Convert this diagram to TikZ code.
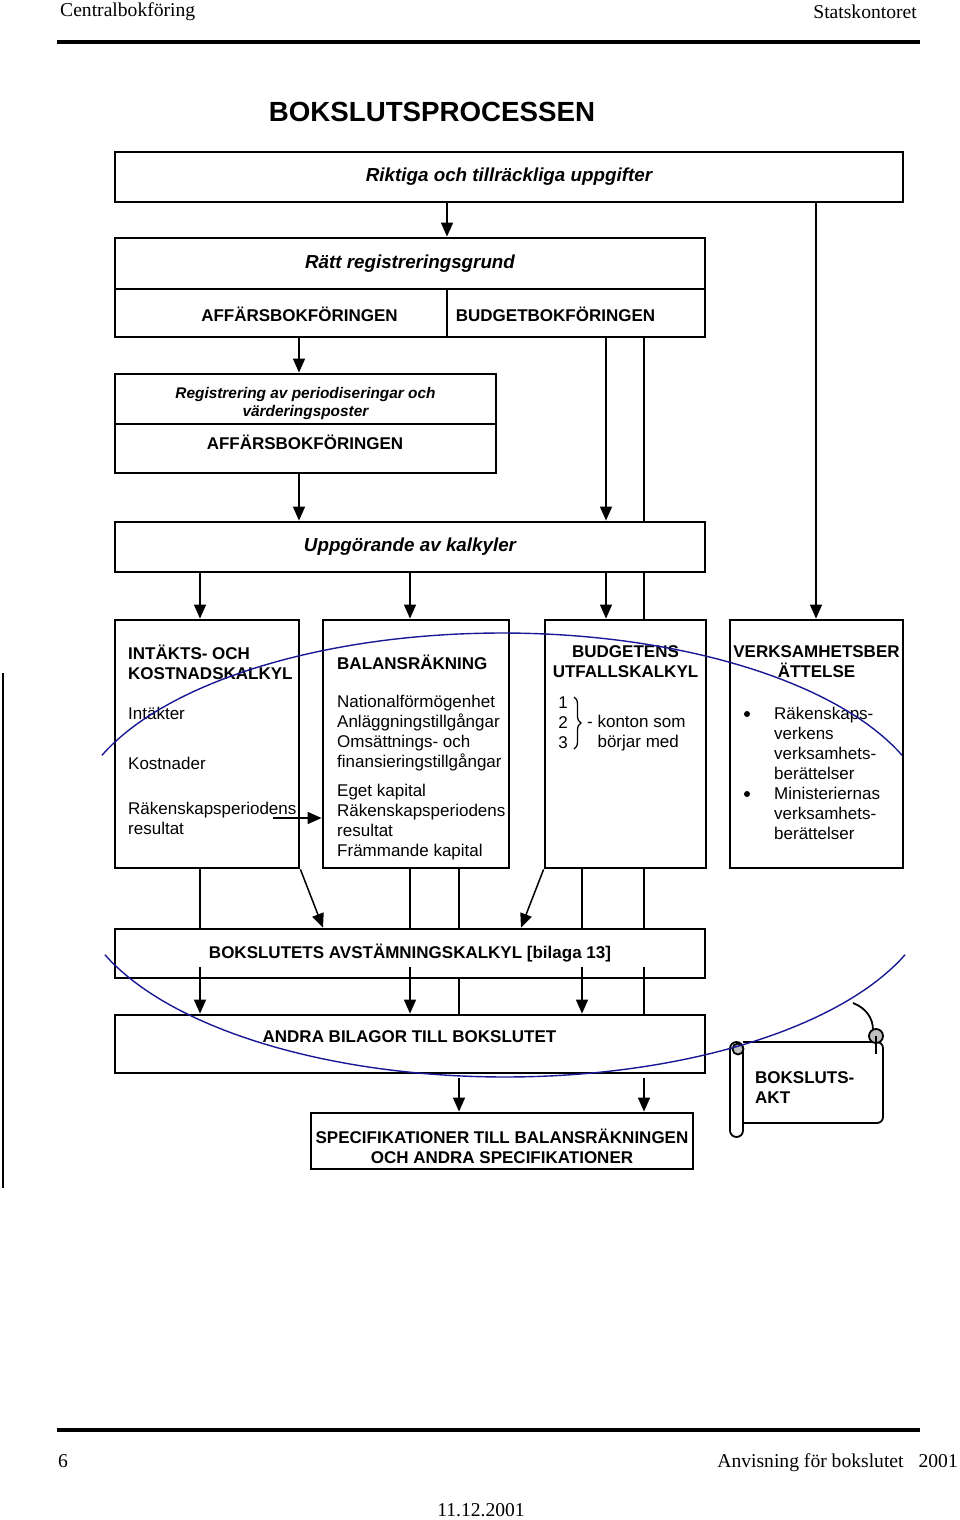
\documentclass[tikz,border=0pt]{standalone}
\usepackage{fontspec}
\setmainfont{Liberation Sans}
\newfontfamily\timesfont{Liberation Serif}
\usepackage{tikz}
\usetikzlibrary{arrows.meta,decorations.pathreplacing}
\usepackage{xcolor}
\definecolor{arcblue}{RGB}{25,25,150}
\newcommand\bodyfont{\fontsize{17}{20}\selectfont}
\newcommand\headfont{\bfseries\fontsize{17}{20}\selectfont}
\newcommand\itfont{\bfseries\itshape\fontsize{18.8}{22}\selectfont}
\newcommand\pagefont{\timesfont\fontsize{19.6}{22}\selectfont}

\begin{document}
\begin{tikzpicture}[
  x=1pt, y=-1pt,
  >={Triangle[length=14pt,width=12pt]},
  %every node/.style={draw=red},
  ]
  \tikzstyle{box}=[draw,line width=2.8pt,inner sep=0]
  \tikzstyle{txt}=[inner sep=0,font=\bodyfont,align=left]
  \tikzstyle{hd}=[inner sep=0,font=\headfont,align=center]
  \tikzstyle{dot}=[circle,fill,inner sep=0,minimum size=6pt]
  \tikzstyle{link}=[line width=1.5pt]
  \tikzstyle{arr}=[link,->]
  \tikzstyle{sc}=[line width=1.8pt]
  \useasboundingbox (0,0) rectangle (960,1520);

  % page head and foot
  \node[anchor=west,inner sep=0,font=\pagefont] (headl) at (60,12) {Centralbokföring};
  \node[anchor=east,inner sep=0,font=\pagefont] (headr) at (917,12) {Statskontoret};
  \draw[line width=4pt] (57,42) -- (920,42);
  \draw[line width=4pt] (57,1430) -- (920,1430);
  \node[anchor=west,inner sep=0,font=\pagefont] (pnum) at (58,1461) {6};
  \node[anchor=east,inner sep=0,font=\pagefont] (doc) at (958,1463) {Anvisning för bokslutet\hspace{15pt}2001};
  \node[inner sep=0,font=\pagefont] (date) at (481,1510) {11.12.2001};
  \draw[line width=1.2pt] (3,673) -- (3,1188);

  \node[inner sep=0,font=\bfseries\fontsize{27.7}{30}\selectfont] (title) at (432,112) {BOKSLUTSPROCESSEN};

  % upper chain
  \node[box,minimum width=788,minimum height=50,font=\itfont] (rikt) at (509,177) {Riktiga och tillräckliga uppgifter};
  \node[box,minimum width=590,minimum height=51,font=\itfont] (ratt) at (410,263.5) {Rätt registreringsgrund};
  \node[box,minimum width=332,minimum height=48] (affar) at (281,313) {};
  \node[box,minimum width=258,minimum height=48] (budg) at (576,313) {};
  \node[hd] (affart) at (299.5,314) {AFFÄRSBOKFÖRINGEN};
  \node[hd] (budgt) at (555.5,314) {BUDGETBOKFÖRINGEN};

  \node[box,minimum width=381,minimum height=50] (reg) at (305.5,399) {};
  \node[inner sep=0,align=center,font=\bfseries\itshape\fontsize{15.4}{18}\selectfont] (regt) at (305.5,404)
    {Registrering av periodiseringar och\\värderingsposter};
  \node[box,minimum width=381,minimum height=49] (regaf) at (305.5,448.5) {};
  \node[hd] (regaft) at (305,442) {AFFÄRSBOKFÖRINGEN};

  \node[box,minimum width=590,minimum height=50,font=\itfont] (uppg) at (410,547) {Uppgörande av kalkyler};

  % the four calculations
  \node[box,minimum width=184,minimum height=248] (ik) at (207,744) {};
  \node[box,minimum width=186,minimum height=248] (bal) at (416,744) {};
  \node[box,minimum width=161,minimum height=248] (utf) at (625.5,744) {};
  \node[box,minimum width=173,minimum height=248] (verk) at (816.5,744) {};

  \node[hd,anchor=west,align=left] (ikt) at (128,662) {INTÄKTS- OCH\\KOSTNADSKALKYL};
  \node[txt,anchor=west] (int) at (128,713) {Intäkter};
  \node[txt,anchor=west] (kost) at (128,763) {Kostnader};
  \node[txt,anchor=west] (res) at (128,818) {Räkenskapsperiodens\\resultat};

  \node[hd,anchor=west] (balt) at (337,662) {BALANSRÄKNING};
  \node[txt,anchor=west] (akt1) at (337,733) {Nationalförmögenhet\\Anläggningstillgångar\\Omsättnings- och\\finansieringstillgångar};
  \node[txt,anchor=west] (pas1) at (337,822) {Eget kapital\\Räkenskapsperiodens\\resultat\\Främmande kapital};

  \node[hd] (utft) at (625.5,662) {BUDGETENS\\UTFALLSKALKYL};
  \node[txt] (nums) at (563,723) {1\\2\\3};
  \draw[line width=1.3pt,decorate,decoration={brace,amplitude=7pt}] (574,697) -- (574,749);
  \node[txt,anchor=west] (kont) at (587,733) {- konton som\\\phantom{- }börjar med};

  \node[hd] (verkt) at (816.5,662) {VERKSAMHETSBER\\ÄTTELSE};
  \node[dot] (b1) at (747,714) {};
  \node[dot] (b2) at (747,794) {};
  \node[txt,anchor=west] (verk1) at (774,743) {Räkenskaps-\\verkens\\verksamhets-\\berättelser};
  \node[txt,anchor=west] (verk2) at (774,813) {Ministeriernas\\verksamhets-\\berättelser};

  % lower chain
  \node[box,minimum width=590,minimum height=49,font=\headfont] (avst) at (410,953.5) {BOKSLUTETS AVSTÄMNINGSKALKYL [bilaga 13]};
  \node[box,minimum width=590,minimum height=58] (andra) at (410,1044) {};
  \node[hd] (andrat) at (409.5,1037) {ANDRA BILAGOR TILL BOKSLUTET};
  \node[box,minimum width=382,minimum height=56] (spec) at (502,1141) {};
  \node[hd] (spect) at (502,1146) {SPECIFIKATIONER TILL BALANSRÄKNINGEN\\OCH ANDRA SPECIFIKATIONER};

  % scroll
  \draw[sc,rounded corners=6pt,fill=white] (743,1042) -- (883,1042) -- (883,1123) -- (743,1123);
  \draw[sc,fill=white,rounded corners=6.5pt] (730,1042) rectangle (743,1137);
  \draw[sc,fill=black!25] (738,1049) circle (5.5);
  \draw[sc,fill=black!25] (876,1036) circle (7);
  \draw[sc] (876,1036) -- (876,1054);
  \draw[sc] (853,1003) .. controls (866,1008) and (873,1018) .. (873,1030);
  \node[hd,anchor=west,align=left] (akt) at (755,1088) {BOKSLUTS-\\AKT};

  % columns
  \coordinate (k1) at (200,0);
  \coordinate (k2) at (299,0);
  \coordinate (k3) at (410,0);
  \coordinate (k4) at (447,0);
  \coordinate (k5) at (459,0);
  \coordinate (k6) at (582,0);
  \coordinate (k7) at (606,0);
  \coordinate (k8) at (644,0);
  \coordinate (k9) at (816,0);
  \coordinate (d1) at (323,0);
  \coordinate (d2) at (521,0);
  \coordinate (rs) at (273,818);

  \draw[arr] (k4 |- rikt.south) -- (k4 |- ratt.north);
  \draw[arr] (k9 |- rikt.south) -- (k9 |- verk.north);
  \draw[arr] (k2 |- affar.south) -- (k2 |- reg.north);
  \draw[arr] (k7 |- budg.south) -- (k7 |- uppg.north);
  \draw[link] (k8 |- budg.south) -- (k8 |- uppg.north);
  \draw[arr] (k2 |- regaf.south) -- (k2 |- uppg.north);
  \draw[arr] (k1 |- uppg.south) -- (k1 |- ik.north);
  \draw[arr] (k3 |- uppg.south) -- (k3 |- bal.north);
  \draw[arr] (k7 |- uppg.south) -- (k7 |- utf.north);
  \draw[link] (k8 |- uppg.south) -- (k8 |- utf.north);
  \draw[arr] (rs) -- (rs -| bal.west);

  \draw[link] (k1 |- ik.south) -- (k1 |- avst.north);
  \draw[arr] (ik.south east) -- (d1 |- avst.north);
  \draw[link] (k3 |- bal.south) -- (k3 |- avst.north);
  \draw[link] (k5 |- bal.south) -- (k5 |- avst.north);
  \draw[arr] (utf.south west) -- (d2 |- avst.north);
  \draw[link] (k6 |- utf.south) -- (k6 |- avst.north);
  \draw[link] (k8 |- utf.south) -- (k8 |- avst.north);

  \draw[arr] ([yshift=12pt]k1 |- avst.south) -- (k1 |- andra.north);
  \draw[arr] ([yshift=12pt]k3 |- avst.south) -- (k3 |- andra.north);
  \draw[arr] ([yshift=12pt]k6 |- avst.south) -- (k6 |- andra.north);
  \draw[link] (k5 |- avst.south) -- (k5 |- andra.north);
  \draw[link] ([yshift=12pt]k8 |- avst.south) -- (k8 |- andra.north);

  \draw[arr] ([yshift=-4pt]k5 |- andra.south) -- (k5 |- spec.north);
  \draw[arr] ([yshift=-4pt]k8 |- andra.south) -- (k8 |- spec.north);

  % blue arcs
  \draw[arcblue,line width=1.4pt] plot[domain=-158.5:-21.5,samples=80] ({502+430*cos(\x)},{826+193*sin(\x)});
  \draw[arcblue,line width=1.4pt] plot[domain=158.5:21.5,samples=80] ({505+430*cos(\x)},{884+193*sin(\x)});
\end{tikzpicture}
\end{document}
